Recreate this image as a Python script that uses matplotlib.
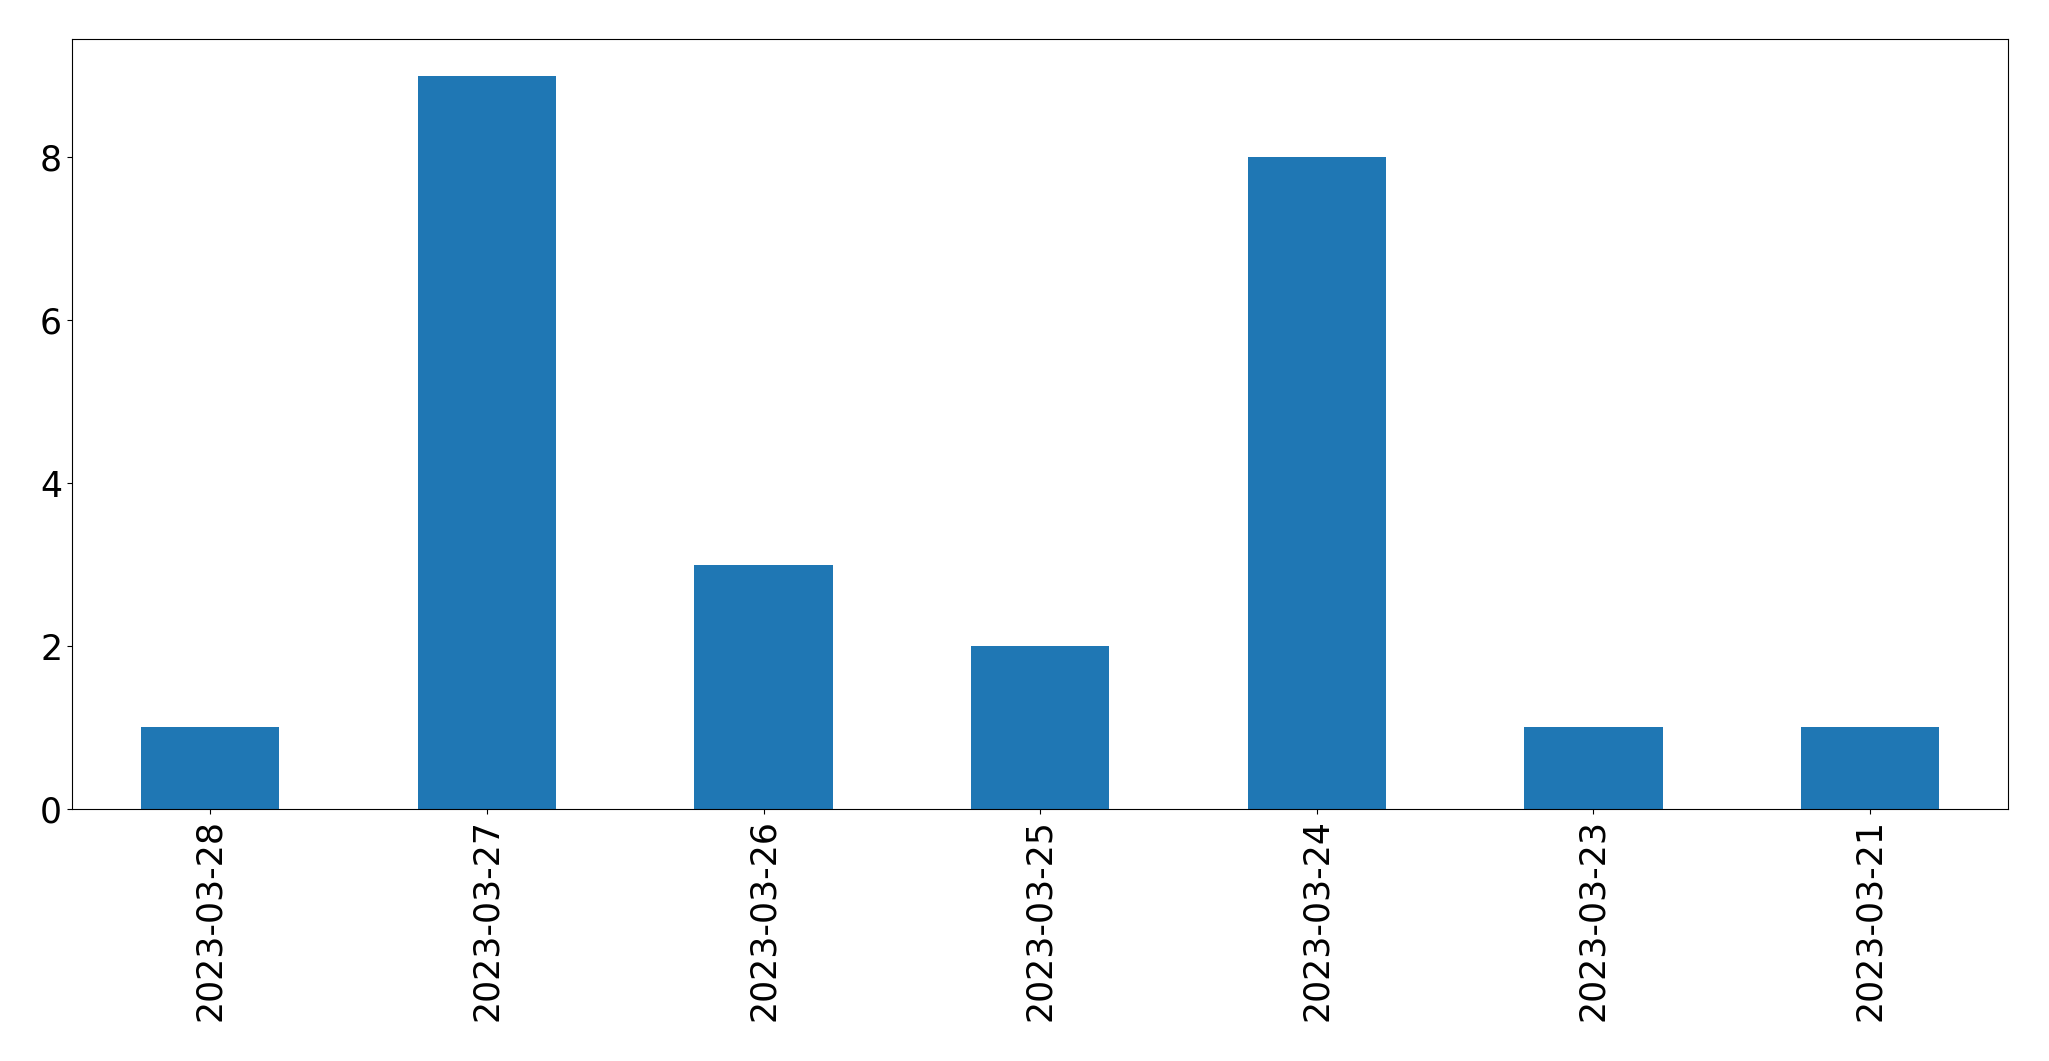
import matplotlib
matplotlib.use("Agg")
import matplotlib.pyplot as plt

dates = ["2023-03-28", "2023-03-27", "2023-03-26", "2023-03-25",
         "2023-03-24", "2023-03-23", "2023-03-21"]
counts = [1, 9, 3, 2, 8, 1, 1]

fig = plt.figure(figsize=(20.49, 10.61), dpi=100)
ax = fig.add_axes([0.0351, 0.2376, 0.9451, 0.7254])
x = list(range(len(dates)))
ax.bar(x, counts, width=0.5, color="#1f77b4")
ax.set_xlim(-0.5, len(dates) - 0.5)
ax.set_ylim(0, max(counts) * 1.05)
ax.set_xticks(x)
ax.set_xticklabels(dates, rotation=90)
ax.set_yticks([0, 2, 4, 6, 8])
ax.tick_params(labelsize=25)
fig.savefig("out.png", dpi=100)
